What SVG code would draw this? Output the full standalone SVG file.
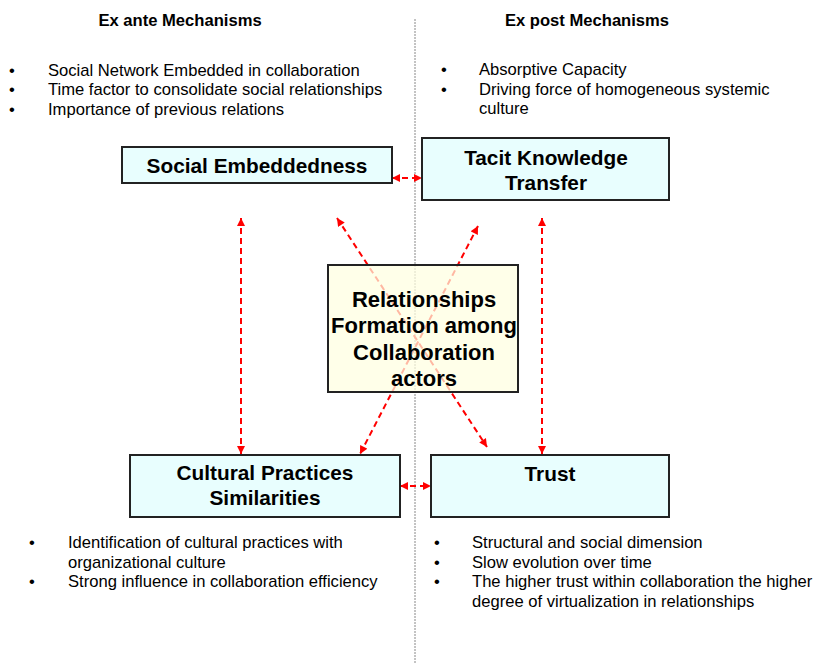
<svg xmlns="http://www.w3.org/2000/svg" width="817" height="664" viewBox="0 0 817 664">
<defs>
<marker id="ah" viewBox="0 0 10 10" refX="10" refY="5" markerWidth="9" markerHeight="8" markerUnits="userSpaceOnUse" orient="auto-start-reverse">
<path d="M0,0 L10,5 L0,10 z" fill="#FF0000"/>
</marker>
<style>
text{font-family:"Liberation Sans",Arial,sans-serif;fill:#000}
.h{font-size:16.6px;font-weight:bold;text-anchor:middle}
.b{font-size:16.6px}
.bl{font-size:16.6px;text-anchor:middle}
.n{font-size:20.8px;font-weight:bold;text-anchor:middle}
.c{font-size:22px;font-weight:bold;text-anchor:middle}
.box{fill:#E8FEFE;stroke:#222;stroke-width:2}
.cbox{fill:#FFFFE0;fill-opacity:0.72;stroke:#222;stroke-width:2}
.ar{stroke:#FF0000;stroke-width:2;fill:none;stroke-dasharray:6 4;marker-start:url(#ah);marker-end:url(#ah)}
</style>
</defs>
<rect width="817" height="664" fill="#fff"/>
<line x1="415" y1="19" x2="415" y2="664" stroke="#888" stroke-width="1" stroke-dasharray="2 1"/>

<g id="headings">
<text class="h" x="180" y="26">Ex ante Mechanisms</text>
<text class="h" x="587" y="26">Ex post Mechanisms</text>
</g>

<g id="exante-bullets">
<text class="bl" x="12" y="75.5">•</text><text class="b" x="48" y="75.5">Social Network Embedded in collaboration</text>
<text class="bl" x="12" y="95.2">•</text><text class="b" x="48" y="95.2">Time factor to consolidate social relationships</text>
<text class="bl" x="12" y="114.9">•</text><text class="b" x="48" y="114.9">Importance of previous relations</text>
</g>

<g id="expost-bullets">
<text class="bl" x="444" y="75">•</text><text class="b" x="479" y="75">Absorptive Capacity</text>
<text class="bl" x="444" y="94.5">•</text><text class="b" x="479" y="94.5">Driving force of homogeneous systemic</text>
<text class="b" x="479" y="114">culture</text>
</g>

<g id="connectors">
<line class="ar" x1="392" y1="178" x2="422" y2="178"/>
<line class="ar" x1="400" y1="486" x2="431" y2="486"/>
<line class="ar" x1="241" y1="218" x2="241" y2="454"/>
<line class="ar" x1="542" y1="218" x2="542" y2="454"/>
<line class="ar" x1="337" y1="218" x2="487" y2="447"/>
<line class="ar" x1="478" y1="226" x2="360" y2="454"/>
</g>

<g id="social-embeddedness">
<rect class="box" x="122" y="147" width="270" height="36"/>
<text class="n" x="257" y="172.5">Social Embeddedness</text>
</g>

<g id="tacit-knowledge">
<rect class="box" x="422" y="138" width="247" height="62"/>
<text class="n" x="546" y="165">Tacit Knowledge</text>
<text class="n" x="546" y="190">Transfer</text>
</g>

<g id="relationships">
<rect class="cbox" x="328" y="265" width="190" height="127"/>
<text class="c" x="424" y="307">Relationships</text>
<text class="c" x="424" y="333">Formation among</text>
<text class="c" x="424" y="360">Collaboration</text>
<text class="c" x="424" y="386">actors</text>
</g>

<g id="cultural-practices">
<rect class="box" x="130" y="455" width="270" height="62"/>
<text class="n" x="265" y="480">Cultural Practices</text>
<text class="n" x="265" y="505">Similarities</text>
</g>

<g id="trust">
<rect class="box" x="431" y="455" width="238" height="62"/>
<text class="n" x="550" y="481">Trust</text>
</g>

<g id="cultural-bullets">
<text class="bl" x="32" y="548">•</text><text class="b" x="68" y="548">Identification of cultural practices with</text>
<text class="b" x="68" y="567.7">organizational culture</text>
<text class="bl" x="32" y="587.4">•</text><text class="b" x="68" y="587.4">Strong influence in collaboration efficiency</text>
</g>

<g id="trust-bullets">
<text class="bl" x="437" y="548">•</text><text class="b" x="472" y="548">Structural and social dimension</text>
<text class="bl" x="437" y="567.7">•</text><text class="b" x="472" y="567.7">Slow evolution over time</text>
<text class="bl" x="437" y="587.4">•</text><text class="b" x="472" y="587.4">The higher trust within collaboration the higher</text>
<text class="b" x="472" y="607.1">degree of virtualization in relationships</text>
</g>
</svg>
